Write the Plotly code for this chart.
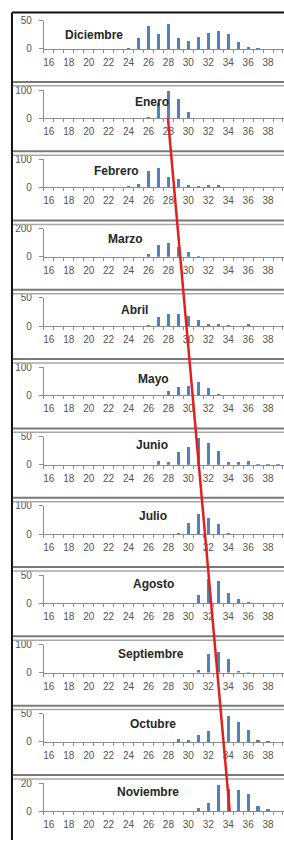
import plotly.graph_objects as go

# ---------------- data ----------------
categories = [16, 17, 18, 19, 20, 21, 22, 23, 24, 25, 26, 27,
              28, 29, 30, 31, 32, 33, 34, 35, 36, 37, 38, 39]
tick_values = [16, 18, 20, 22, 24, 26, 28, 30, 32, 34, 36, 38]
tick_labels = ["16", "18", "20", "22", "24", "26", "28", "30", "32", "34", "36", "38"]

months = ["Diciembre", "Enero", "Febrero", "Marzo", "Abril", "Mayo",
          "Junio", "Julio", "Agosto", "Septiembre", "Octubre", "Noviembre"]
y_max = [50, 100, 100, 200, 50, 100, 50, 100, 50, 100, 50, 20]

#            16 17 18 19 20 21 22 23 24   25  26  27  28  29  30  31  32  33  34  35  36 37 38 39
diciembre  = [0, 0, 0, 0, 0, 0, 0, 0, 2,  20, 40, 27, 44, 19, 14, 22, 29, 31, 27, 13, 4, 1, 0, 0]
enero      = [0, 0, 0, 0, 0, 0, 0, 0, 0,   0,  5, 55, 97, 68, 21,  0,  0,  0,  0,  0, 0, 0, 0, 0]
febrero    = [0, 0, 0, 0, 0, 0, 0, 0, 6,  13, 57, 69, 37, 29, 10,  6,  9,  9,  0,  0, 0, 0, 0, 0]
marzo      = [0, 0, 0, 0, 0, 0, 0, 0, 0,   0, 21, 85, 101, 69, 32, 7,  0,  0,  0,  0, 0, 0, 0, 0]
abril      = [0, 0, 0, 0, 0, 1, 0, 0, 0,   1,  2, 16, 21, 21, 18, 11,  4,  4,  2,  1, 3, 0, 0, 0]
mayo       = [0, 0, 0, 0, 0, 0, 0, 0, 1,   0,  3,  3, 15, 29, 35, 47, 26,  6,  2,  2, 2, 1, 0, 0]
junio      = [0, 0, 0, 0, 0, 0, 0, 0, 0,   0,  0,  6,  4, 22, 32, 47, 39, 25,  4,  5, 7, 2, 2, 1]
julio      = [0, 0, 0, 0, 0, 0, 0, 0, 0,   0,  0,  0,  0,  3, 38, 70, 56, 34,  3,  0, 0, 0, 0, 0]
agosto     = [0, 0, 0, 0, 0, 0, 0, 0, 0,   0,  0,  0,  0,  0,  0, 14, 43, 39, 19,  8, 3, 1, 0, 0]
septiembre = [0, 0, 0, 0, 0, 0, 0, 0, 0,   0,  0,  0,  0,  0,  0, 10, 65, 74, 47,  5, 1, 0, 0, 0]
octubre    = [0, 0, 0, 0, 0, 0, 0, 0, 0,   0,  0,  0,  0,  6,  4, 12, 19,  0, 47, 35, 21, 3, 1, 0]
noviembre  = [0, 0, 0, 0, 0, 0, 0, 0, 0.3, 0,  0,  0,  0,  0, 0.5, 2.3, 6, 18.4, 16, 15.4, 12, 4, 1.4, 0]

series = [diciembre, enero, febrero, marzo, abril, mayo,
          junio, julio, agosto, septiembre, octubre, noviembre]

# trend line drawn by hand on the original: from Enero to Noviembre (category units)
trend_start = 27.95
trend_end = 34.15

# ---------------- layout helpers ----------------
W, H = 284, 846
ZERO0, PITCH, PLOT_H = 43.5, 70.3, 28.5
X_LEFT = 43
PX_PER_CAT = 10.0
title_x = [20.5, 26.4, 22.8, 23.7, 24.6, 26.5, 26.4, 26.5, 26.5, 26.3, 26.5, 26.0]
title_y = [0.50, 0.56, 0.60, 0.63, 0.56, 0.60, 0.70, 0.63, 0.67, 0.67, 0.63, 0.67]


def py(px):
    return 1 - px / H


AXIS_GRAY = "#8c8c8c"
LABEL_GRAY = "#555555"
FONT = "Liberation Sans"

fig = go.Figure()
layout = dict(
    width=W, height=H,
    margin=dict(l=0, r=0, t=0, b=0),
    paper_bgcolor="white", plot_bgcolor="white",
    showlegend=False, bargap=0,
)

xdom = [X_LEFT / W, 1.0]
xrange = [15.5, 15.5 + (W - X_LEFT) / PX_PER_CAT]
boundaries = [c - 0.5 for c in categories] + [categories[-1] + 0.5]

annotations = []
shapes = []
for k, name in enumerate(months):
    sfx = "" if k == 0 else str(k + 1)
    xn, yn = "x" + sfx, "y" + sfx
    zero_px = ZERO0 + PITCH * k
    fig.add_trace(go.Bar(
        x=categories, y=series[k], xaxis=xn, yaxis=yn,
        width=0.32, marker=dict(color="#4F81BD", line=dict(width=0)),
        hoverinfo="skip",
    ))
    layout["xaxis" + sfx] = dict(
        domain=xdom, range=xrange, anchor=yn,
        tickmode="array", tickvals=tick_values, ticktext=tick_labels,
        ticks="", showline=True, linecolor=AXIS_GRAY, linewidth=1,
        showgrid=False, zeroline=False, fixedrange=True,
        tickfont=dict(family=FONT, size=10, color=LABEL_GRAY),
        ticklabelstandoff=4,
        minor=dict(ticks="outside", ticklen=3, tickwidth=1, tickcolor=AXIS_GRAY,
                   tickvals=boundaries, showgrid=False),
    )
    layout["yaxis" + sfx] = dict(
        domain=[py(zero_px), py(zero_px - PLOT_H)], range=[0, y_max[k]],
        anchor=xn, tickmode="array", tickvals=[0, y_max[k]],
        ticks="outside", ticklen=4, tickcolor=AXIS_GRAY,
        showline=True, linecolor=AXIS_GRAY, linewidth=1,
        showgrid=True, gridcolor="#a6a6a6", gridwidth=1, zeroline=False,
        fixedrange=True, ticklabelstandoff=5,
        tickfont=dict(family=FONT, size=10, color=LABEL_GRAY),
    )
    annotations.append(dict(
        text="<b>" + name + "</b>", xref=xn, yref=yn + " domain",
        x=title_x[k], y=title_y[k], showarrow=False,
        font=dict(family=FONT, size=12, color="#262626"),
        xanchor="center", yanchor="middle",
    ))

# panel separators (chart borders), outer frame
for k in range(11):
    s = 77 + PITCH * k
    shapes.append(dict(type="line", xref="paper", yref="paper",
                       x0=11 / W, x1=1, y0=py(s), y1=py(s),
                       line=dict(color="#7a7a7a", width=2)))
    shapes.append(dict(type="line", xref="paper", yref="paper",
                       x0=11 / W, x1=1, y0=py(s + 4), y1=py(s + 4),
                       line=dict(color="#a8a8a8", width=1.5)))
shapes.append(dict(type="line", xref="paper", yref="paper",
                   x0=11 / W, x1=1, y0=py(6.5), y1=py(6.5),
                   line=dict(color="#111111", width=2)))
shapes.append(dict(type="line", xref="paper", yref="paper",
                   x0=11 / W, x1=11 / W, y0=py(6.5), y1=0,
                   line=dict(color="#111111", width=2)))

# red trend line from Enero zero line to Noviembre zero line
shapes.append(dict(type="line", xref="x2", yref="paper",
                   x0=trend_start, x1=trend_end,
                   y0=py(ZERO0 + PITCH * 1), y1=py(ZERO0 + PITCH * 11),
                   line=dict(color="#e0201c", width=2.5)))

layout["annotations"] = annotations
layout["shapes"] = shapes
fig.update_layout(**layout)
fig.write_html(
    "out.html",
    config={"displayModeBar": False, "staticPlot": True},
    post_script="document.body.style.margin='0';document.body.style.overflow='hidden';"
                "document.documentElement.style.overflow='hidden';",
)
